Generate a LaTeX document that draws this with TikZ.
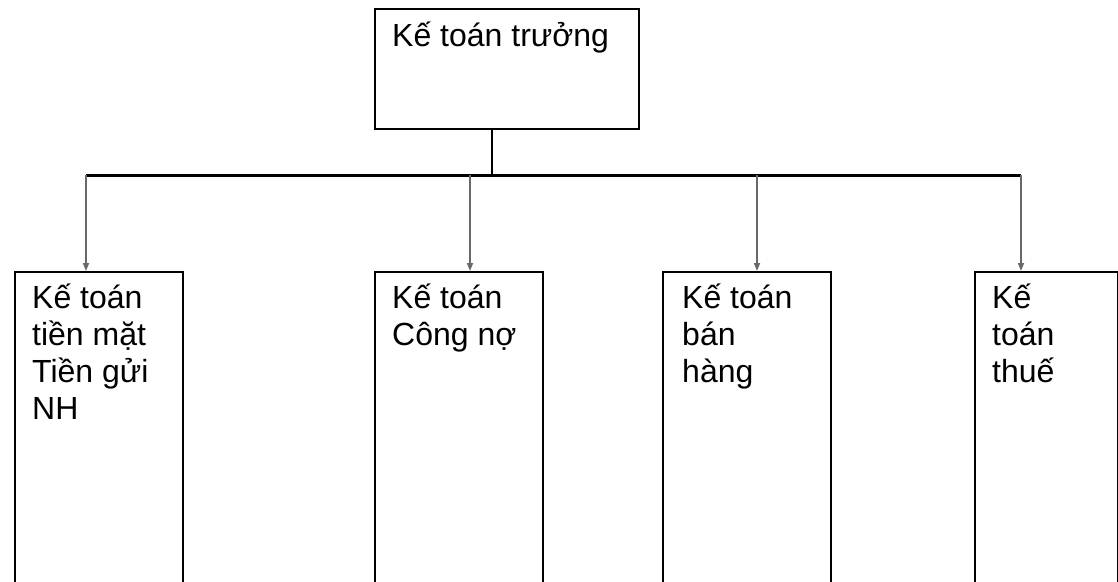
\documentclass[tikz,border=0pt]{standalone}
\usepackage{fontspec}
\setmainfont{Liberation Sans}
\usetikzlibrary{arrows.meta}
\definecolor{linkgray}{RGB}{105,105,105}
\tikzset{
  box/.style={draw=black, line width=2pt, fill=white, rectangle, inner sep=0pt, anchor=north west},
  lbl/.style={inner sep=0pt, anchor=base west, align=left, font=\fontsize{32}{37}\selectfont},
  bus/.style={draw=black, line width=3pt},
  stem/.style={draw=black, line width=2pt},
  arr/.style={draw=linkgray, line width=1.6pt, -{Triangle[length=8pt,width=6pt]}}
}
\begin{document}
\begin{tikzpicture}[x=1pt, y=-1pt]
\useasboundingbox (0,0) rectangle (1118,581);
\clip (0,0) rectangle (1118,581);
\fill[white] (0,0) rectangle (1118,581);

% head of department
\node[box, minimum width=264, minimum height=120] (top) at (374,8) {};
\node[lbl] (ttop) at ([xshift=18pt, yshift=-38pt]top.north west) {Kế toán trưởng};

% staff boxes (they run past the lower edge)
\node[box, minimum width=168, minimum height=360] (b1) at (14,271) {};
\node[box, minimum width=168, minimum height=360] (b2) at (374,271) {};
\node[box, minimum width=168, minimum height=360] (b3) at (662,271) {};
\node[box, minimum width=143, minimum height=360] (b4) at (974,271) {};

% labels are anchored at the baseline of their last line (37pt per line)
\node[lbl] (t1) at ([xshift=18pt, yshift=-148pt]b1.north west) {Kế toán\\tiền mặt\\Tiền gửi\\NH};
\node[lbl] (t2) at ([xshift=18pt, yshift=-74pt]b2.north west) {Kế toán\\Công nợ};
\node[lbl] (t3) at ([xshift=20pt, yshift=-111pt]b3.north west) {Kế toán\\bán\\hàng};
\node[lbl] (t4) at ([xshift=18pt, yshift=-111pt]b4.north west) {Kế\\toán\\thuế};

% distribution bus
\coordinate (j) at (492,175);
\coordinate (p1) at (86,175);
\coordinate (p2) at (470,175);
\coordinate (p3) at (757,175);
\coordinate (p4) at (1021,175);
\draw[stem] (j |- top.south) -- (j);
\draw[bus] (p1) -- (p4);

\draw[arr] (p1) -- (p1 |- b1.north);
\draw[arr] (p2) -- (p2 |- b2.north);
\draw[arr] (p3) -- (p3 |- b3.north);
\draw[arr] (p4) -- (p4 |- b4.north);
\end{tikzpicture}
\end{document}
